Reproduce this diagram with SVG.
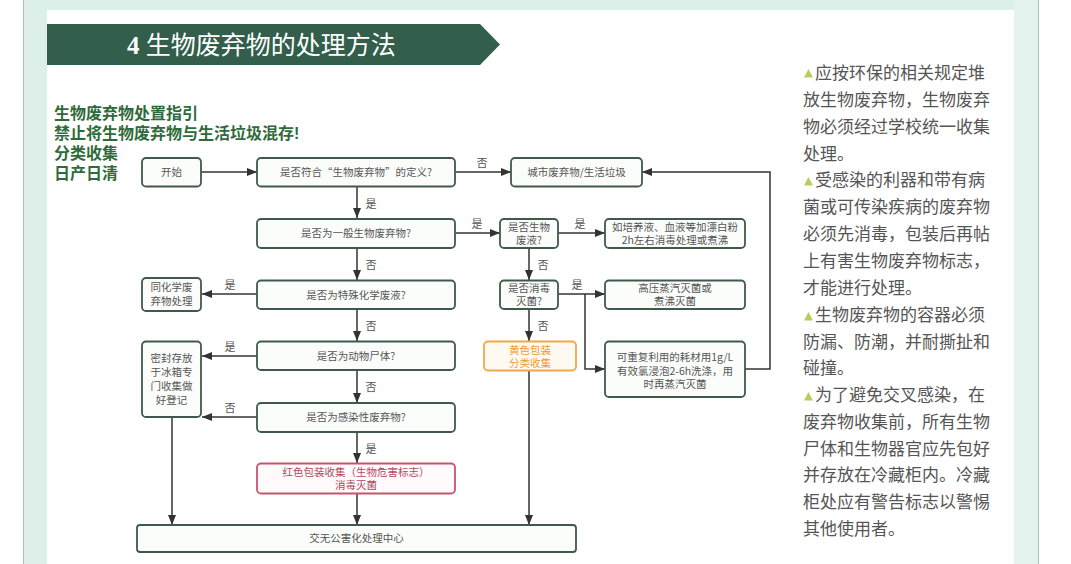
<svg xmlns="http://www.w3.org/2000/svg" width="1071" height="564" viewBox="0 0 1071 564">
<style>
.nd{fill:#fbfdfb;stroke:#3f5a4a;stroke-width:1.8}
.nt{font-family:"Noto Sans CJK SC","Noto Sans",sans-serif;font-size:10.5px;fill:#555;text-anchor:middle}
.cn{fill:none;stroke:#333;stroke-width:1.5}
.lb{font-family:"Noto Sans CJK SC",sans-serif;font-size:11px;fill:#555;text-anchor:middle}
.tt{font-family:"Liberation Sans","Noto Sans CJK SC",sans-serif;font-size:16px;font-weight:bold;fill:#2f6b3a}
.rt{font-family:"Noto Sans CJK SC",sans-serif;font-size:17px;fill:#555}
</style>
<defs>
<marker id="ah" markerWidth="10" markerHeight="8" refX="10" refY="4" orient="auto" markerUnits="userSpaceOnUse">
<path d="M0,0 L10,4 L0,8 z" fill="#333"/>
</marker>
<g id="tri"><path d="M4.5,0 L9,8.5 L0,8.5 z" fill="#b7cf5a"/></g>
</defs>
<rect x="0" y="0" width="1071" height="564" fill="#ffffff"/>
<rect x="23" y="0" width="24" height="564" fill="#dcefe8"/>
<line x1="23.5" y1="0" x2="23.5" y2="564" stroke="#a9c3b9" stroke-width="1"/>
<rect x="47" y="0" width="967" height="10" fill="#dcefe8"/>
<rect x="1014" y="0" width="24" height="564" fill="#e3f3ee"/>
<line x1="1038.5" y1="0" x2="1038.5" y2="564" stroke="#a9c3b9" stroke-width="1"/>

<g id="header">
<path d="M47,24 H480 L500,44.5 L480,65 H47 z" fill="#325e4b"/>
<text x="127" y="54" font-family="'Liberation Serif','Noto Sans CJK SC',serif" font-size="25" fill="#ffffff"><tspan font-weight="bold">4</tspan> 生物废弃物的处理方法</text>
</g>

<g id="title">
<text class="tt" x="54" y="119">生物废弃物处置指引<tspan x="54" dy="20">禁止将生物废弃物与生活垃圾混存!</tspan><tspan x="54" dy="20">分类收集</tspan><tspan x="54" dy="20">日产日清</tspan></text>
</g>

<g id="connectors">
<path class="cn" d="M201,172 H257" marker-end="url(#ah)"/>
<path class="cn" d="M456,172 H511" marker-end="url(#ah)"/>
<path class="cn" d="M357,187 V218" marker-end="url(#ah)"/>
<path class="cn" d="M456,233 H500" marker-end="url(#ah)"/>
<path class="cn" d="M558,233 H605" marker-end="url(#ah)"/>
<path class="cn" d="M529,248 V280" marker-end="url(#ah)"/>
<path class="cn" d="M558,294 H605" marker-end="url(#ah)"/>
<path class="cn" d="M585,294 V369 H605" marker-end="url(#ah)"/>
<path class="cn" d="M745,369 H770 V172 H642" marker-end="url(#ah)"/>
<path class="cn" d="M529,309 V341" marker-end="url(#ah)"/>
<path class="cn" d="M529,371 V525" marker-end="url(#ah)"/>
<path class="cn" d="M357,248 V280" marker-end="url(#ah)"/>
<path class="cn" d="M257,294 H202" marker-end="url(#ah)"/>
<path class="cn" d="M357,309 V341" marker-end="url(#ah)"/>
<path class="cn" d="M257,356 H202" marker-end="url(#ah)"/>
<path class="cn" d="M357,370 V403" marker-end="url(#ah)"/>
<path class="cn" d="M257,417 H202" marker-end="url(#ah)"/>
<path class="cn" d="M357,432 V463" marker-end="url(#ah)"/>
<path class="cn" d="M357,494 V525" marker-end="url(#ah)"/>
<path class="cn" d="M172,417 V525" marker-end="url(#ah)"/>
<text class="lb" x="482" y="167">否</text>
<text class="lb" x="371" y="208">是</text>
<text class="lb" x="477" y="228">是</text>
<text class="lb" x="580" y="228">是</text>
<text class="lb" x="543" y="269">否</text>
<text class="lb" x="577" y="289">是</text>
<text class="lb" x="543" y="330">否</text>
<text class="lb" x="371" y="269">否</text>
<text class="lb" x="230" y="289">是</text>
<text class="lb" x="371" y="330">否</text>
<text class="lb" x="230" y="351">是</text>
<text class="lb" x="371" y="391">否</text>
<text class="lb" x="230" y="412">否</text>
<text class="lb" x="371" y="453">是</text>
</g>

<g id="n-start"><rect class="nd" x="142" y="158" width="59" height="28.5" rx="4"/><text class="nt" x="171.5" y="176">开始</text></g>
<g id="n-def"><rect class="nd" x="257" y="158" width="198" height="28.5" rx="4"/><text class="nt" x="356" y="176">是否符合“生物废弃物”的定义?</text></g>
<g id="n-city"><rect class="nd" x="511" y="158" width="131" height="28.5" rx="4"/><text class="nt" x="576.5" y="176">城市废弃物/生活垃圾</text></g>
<g id="n-general"><rect class="nd" x="257" y="219" width="198" height="29" rx="4"/><text class="nt" x="356" y="237">是否为一般生物废弃物?</text></g>
<g id="n-liquid"><rect class="nd" x="500" y="219" width="58" height="29" rx="4"/><text class="nt" x="529" y="231">是否生物</text><text class="nt" x="529" y="244">废液?</text></g>
<g id="n-bleach"><rect class="nd" x="605" y="219" width="140" height="29" rx="4"/><text class="nt" x="675" y="231">如培养液、血液等加漂白粉</text><text class="nt" x="675" y="244">2h左右消毒处理或煮沸</text></g>
<g id="n-chem"><rect class="nd" x="257" y="280.5" width="198" height="28.5" rx="4"/><text class="nt" x="356" y="298.5">是否为特殊化学废液?</text></g>
<g id="n-chemproc"><rect class="nd" x="142" y="278" width="59" height="33" rx="4"/><text class="nt" x="171.5" y="291">同化学废</text><text class="nt" x="171.5" y="305">弃物处理</text></g>
<g id="n-steril"><rect class="nd" x="500" y="280.5" width="58" height="28.5" rx="4"/><text class="nt" x="529" y="292">是否消毒</text><text class="nt" x="529" y="305">灭菌?</text></g>
<g id="n-autoclave"><rect class="nd" x="605" y="280.5" width="140" height="28.5" rx="4"/><text class="nt" x="675" y="292">高压蒸汽灭菌或</text><text class="nt" x="675" y="305">煮沸灭菌</text></g>
<g id="n-animal"><rect class="nd" x="257" y="341.5" width="198" height="28.5" rx="4"/><text class="nt" x="356" y="359.5">是否为动物尸体?</text></g>
<g id="n-seal"><rect class="nd" x="142" y="341.5" width="59" height="75.5" rx="4"/><text class="nt" x="171.5" y="362">密封存放</text><text class="nt" x="171.5" y="376">于冰箱专</text><text class="nt" x="171.5" y="390">门收集做</text><text class="nt" x="171.5" y="404">好登记</text></g>
<g id="n-yellow"><rect x="484" y="341.5" width="92" height="29" rx="4" fill="#fffaf1" stroke="#f0a848" stroke-width="1.8"/><text class="nt" x="530" y="353.5" style="fill:#ec9a35">黄色包装</text><text class="nt" x="530" y="366.5" style="fill:#ec9a35">分类收集</text></g>
<g id="n-reuse"><rect class="nd" x="605" y="341.5" width="140" height="55.5" rx="4"/><text class="nt" x="675" y="361">可重复利用的耗材用1g/L</text><text class="nt" x="675" y="374.5">有效氯浸泡2-6h洗涤，用</text><text class="nt" x="675" y="388">时再蒸汽灭菌</text></g>
<g id="n-infect"><rect class="nd" x="257" y="403" width="198" height="29" rx="4"/><text class="nt" x="356" y="421">是否为感染性废弃物?</text></g>
<g id="n-red"><rect x="257" y="463.5" width="198" height="30" rx="4" fill="#fffafb" stroke="#c5566a" stroke-width="1.8"/><text class="nt" x="356" y="476" style="fill:#b5475e">红色包装收集（生物危害标志）</text><text class="nt" x="356" y="489" style="fill:#b5475e">消毒灭菌</text></g>
<g id="n-final"><rect class="nd" x="137" y="525" width="439" height="27" rx="3"/><text class="nt" x="356.5" y="542">交无公害化处理中心</text></g>

<g id="notes">
<use href="#tri" x="804" y="69"/>
<use href="#tri" x="804" y="177"/>
<use href="#tri" x="804" y="312"/>
<use href="#tri" x="804" y="392"/>
<text class="rt" x="815" y="79">应按环保的相关规定堆<tspan x="803" dy="27">放生物废弃物，生物废弃</tspan><tspan x="803" dy="27">物必须经过学校统一收集</tspan><tspan x="803" dy="27">处理。</tspan><tspan x="815" dy="26">受感染的利器和带有病</tspan><tspan x="803" dy="27">菌或可传染疾病的废弃物</tspan><tspan x="803" dy="27">必须先消毒，包装后再帖</tspan><tspan x="803" dy="27">上有害生物废弃物标志，</tspan><tspan x="803" dy="27">才能进行处理。</tspan><tspan x="815" dy="27">生物废弃物的容器必须</tspan><tspan x="803" dy="27">防漏、防潮，并耐撕扯和</tspan><tspan x="803" dy="26">碰撞。</tspan><tspan x="815" dy="27">为了避免交叉感染，在</tspan><tspan x="803" dy="27">废弃物收集前，所有生物</tspan><tspan x="803" dy="27">尸体和生物器官应先包好</tspan><tspan x="803" dy="26">并存放在冷藏柜内。冷藏</tspan><tspan x="803" dy="27">柜处应有警告标志以警惕</tspan><tspan x="803" dy="27">其他使用者。</tspan></text>
</g>
</svg>
